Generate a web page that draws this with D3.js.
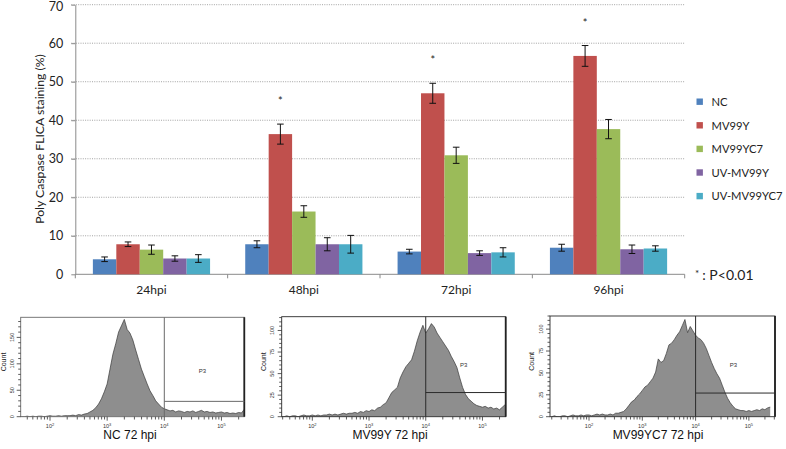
<!DOCTYPE html>
<html><head><meta charset="utf-8">
<script src="https://cdn.jsdelivr.net/npm/d3@7"></script>
<style>body{margin:0;background:#fff}svg{display:block}</style>
</head><body>
<svg id="c" width="786" height="449"></svg>
<script>
// ---------- bar chart data ----------
const categories = ["24hpi", "48hpi", "72hpi", "96hpi"];
const seriesNames = ["NC", "MV99Y", "MV99YC7", "UV-MV99Y", "UV-MV99YC7"];
const valNC        = [3.9, 7.8, 5.9, 6.9];
const valMV99Y     = [7.8, 36.4, 47.0, 56.7];
const valMV99YC7   = [6.4, 16.3, 30.9, 37.7];
const valUVMV99Y   = [4.1, 7.8, 5.5, 6.5];
const valUVMV99YC7 = [4.1, 7.8, 5.7, 6.7];
const errNC        = [0.6, 0.9, 0.6, 0.9];
const errMV99Y     = [0.6, 2.6, 2.6, 2.7];
const errMV99YC7   = [1.2, 1.5, 2.1, 2.5];
const errUVMV99Y   = [0.7, 1.7, 0.6, 1.1];
const errUVMV99YC7 = [1.0, 2.3, 1.2, 0.7];
const seriesColors = ["#4F81BD", "#C0504D", "#9BBB59", "#8064A2", "#4BACC6"];
const yTicks = [0, 10, 20, 30, 40, 50, 60, 70];
const significantCats = ["48hpi", "72hpi", "96hpi"];   // * over MV99Y
const sigNote = ": P<0.01";

// ---------- flow histogram data (counts per log10 bin, start 10^1.30, step 0.05) ----------
const histLogStart = 1.30, histLogStep = 0.05;
const countsNC72 = [0,0,0,0,
  0,0,1,0,1,0,1,1,0,1,2,1,1,2,1,2,2,
  2,3,2,4,3,5,6,9,12,17,
  24,34,47,62,90,118,138,160,172,184,
  165,158,145,126,108,90,76,62,49,40,
  30,24,18,15,13,11,12,9,11,10,
  8,10,9,11,8,10,12,9,10,8,
  9,7,8,9,7,8,6,7,6,8,
  7,14];
const countsMV99Y72 = [0,0,1,0,
  0,1,0,1,1,0,1,2,1,1,2,1,2,
  1,2,2,3,2,3,2,3,4,3,
  4,4,5,4,6,5,7,6,8,7,
  10,11,14,16,22,28,31,34,45,52,
  58,62,66,76,88,98,106,97,102,108,
  104,97,92,87,82,77,70,64,57,45,
  34,26,21,18,15,13,12,11,12,10,
  11,9,10,8,11,14];
const countsMV99YC772 = [0,1,0,0,1,1,0,1,2,1,1,2,1,2,
  2,1,2,3,2,3,2,2,3,2,
  4,4,5,6,9,13,17,19,23,26,
  30,34,36,40,44,51,66,62,64,72,
  82,84,88,93,97,104,111,96,103,98,
  93,90,88,84,78,70,62,55,49,44,
  36,28,21,16,12,9,8,7,7,6,
  7,6,7,8,7,9,8,10,11];
const histTitles = ["NC 72 hpi", "MV99Y 72 hpi", "MV99YC7 72 hpi"];
const histYTicks = [[0, 50, 100, 150], [0, 25, 50, 75, 100], [0, 25, 50, 75, 100]];
const histYMax = [188, 116, 115];
const histYMinorStep = [10, 5, 5];
const gateCounts = [29, 28, 27];
const gateLow = 1e4;
const histXTicks = [1e2, 1e3, 1e4, 1e5];
const gateName = "P3";

// ---------- drawing ----------
const svg = d3.select("#c");
const FONT = "Lato, 'Open Sans', sans-serif";

const values = [valNC, valMV99Y, valMV99YC7, valUVMV99Y, valUVMV99YC7];
const errors = [errNC, errMV99Y, errMV99YC7, errUVMV99Y, errUVMV99YC7];

const plot = {left: 75.3, right: 684.7, top: 4.7, bottom: 274.3};
const y = d3.scaleLinear().domain([0, 70]).range([plot.bottom, plot.top]);
const x0 = d3.scaleBand().domain(categories).range([plot.left, plot.right]);
const x1 = d3.scaleBand().domain(seriesNames).range([0, x0.bandwidth()]).paddingOuter(0.75);

// gridlines
svg.append("g").selectAll("line").data(yTicks.filter(t => t > 0)).join("line")
  .attr("x1", plot.left - 4).attr("x2", plot.right)
  .attr("y1", d => y(d)).attr("y2", d => y(d))
  .attr("stroke", "#8c8c8c").attr("stroke-width", 0.8).attr("stroke-dasharray", "1,1.3");

// y axis
const gy = svg.append("g").attr("transform", `translate(${plot.left},0)`)
  .call(d3.axisLeft(y).tickValues(yTicks).tickSize(4).tickPadding(8).tickSizeOuter(0));
gy.select(".domain").attr("stroke", "#8a8a8a");
gy.selectAll(".tick line").attr("stroke", "#8a8a8a");
gy.selectAll("text").attr("font-family", FONT).attr("font-size", 12.5).attr("fill", "#222")
  .attr("dy", d => d === 70 ? "0.45em" : "0.32em");

svg.append("text").attr("transform", "translate(44,139) rotate(-90)")
  .attr("text-anchor", "middle").attr("font-family", FONT).attr("font-size", 12.2).attr("fill", "#222")
  .text("Poly Caspase FLICA staining (%)");

// x axis
svg.append("line").attr("x1", plot.left).attr("x2", plot.right)
  .attr("y1", plot.bottom).attr("y2", plot.bottom).attr("stroke", "#8a8a8a");
const bounds = categories.map(c => x0(c)).concat([plot.right]);
svg.append("g").selectAll("line").data(bounds).join("line")
  .attr("x1", d => d).attr("x2", d => d).attr("y1", plot.bottom).attr("y2", plot.bottom + 4)
  .attr("stroke", "#8a8a8a");
svg.append("g").selectAll("text").data(categories).join("text")
  .attr("x", d => x0(d) + x0.bandwidth() / 2).attr("y", 294)
  .attr("text-anchor", "middle").attr("font-family", FONT).attr("font-size", 12).attr("fill", "#222")
  .text(d => d);

// bars + error bars
seriesNames.forEach((s, si) => {
  const g = svg.append("g");
  const data = categories.map((c, ci) => ({c, v: values[si][ci], e: errors[si][ci]}));
  g.selectAll("rect").data(data).join("rect")
    .attr("x", d => x0(d.c) + x1(s)).attr("width", x1.bandwidth())
    .attr("y", d => y(d.v)).attr("height", d => y(0) - y(d.v))
    .attr("fill", seriesColors[si]);
  const eg = g.selectAll("g.err").data(data).join("g").attr("class", "err");
  const cx = d => x0(d.c) + x1(s) + x1.bandwidth() / 2;
  eg.append("line").attr("x1", cx).attr("x2", cx)
    .attr("y1", d => y(d.v + d.e)).attr("y2", d => y(d.v - d.e)).attr("stroke", "#111").attr("stroke-width", 1);
  [1, -1].forEach(sg => {
    eg.append("line").attr("x1", d => cx(d) - 3.3).attr("x2", d => cx(d) + 3.3)
      .attr("y1", d => y(d.v + sg * d.e)).attr("y2", d => y(d.v + sg * d.e))
      .attr("stroke", "#111").attr("stroke-width", 1);
  });
});

// significance stars
svg.append("g").selectAll("text").data(significantCats).join("text")
  .attr("x", c => x0(c) + x1("MV99Y") + x1.bandwidth() / 2)
  .attr("y", c => { const i = categories.indexOf(c); return y(valMV99Y[i] + errMV99Y[i]) - 19; })
  .attr("text-anchor", "middle").attr("font-family", FONT).attr("font-size", 11).attr("fill", "#222")
  .text("*");

// legend
const lg = svg.append("g");
seriesNames.forEach((s, i) => {
  const cy = 101.7 + i * 23.6;
  lg.append("rect").attr("x", 696.5).attr("y", cy - 3.2).attr("width", 6.4).attr("height", 6.4).attr("fill", seriesColors[i]);
  lg.append("text").attr("x", 711.5).attr("y", cy + 4.2).attr("font-family", FONT).attr("font-size", 11.2)
    .attr("fill", "#222").text(s);
});
const note = svg.append("text").attr("x", 695).attr("y", 280).attr("font-family", FONT).attr("font-size", 14).attr("fill", "#222");
note.append("tspan").attr("font-size", 10).attr("dy", -3).text("*");
note.append("tspan").attr("dy", 3).attr("dx", 3).text(sigNote);

// ---------- histograms ----------
const histCounts = [countsNC72, countsMV99Y72, countsMV99YC772];
const panels = [
  {x0: 20.7, x1: 244.3, top: 317.3, bottom: 416.7, logMin: 1.487, logMax: 5.40, line: "#6a6a6a", title: 130, countX: 5.5, labX: 13.5},
  {x0: 281.7, x1: 505.7, top: 316.7, bottom: 416.7, logMin: 1.46, logMax: 5.41, line: "#2a2a2a", title: 390, countX: 265.5, labX: 273.5},
  {x0: 550, x1: 775, top: 316, bottom: 416.7, logMin: 1.268, logMax: 5.49, line: "#2a2a2a", title: 658, countX: 533.5, labX: 542.5}
];
const SMALL = "'Liberation Sans', Arial, sans-serif";

panels.forEach((p, pi) => {
  const g = svg.append("g");
  const xs = d3.scaleLog().domain([Math.pow(10, p.logMin), Math.pow(10, p.logMax)]).range([p.x0, p.x1]);
  const ys = d3.scaleLinear().domain([0, histYMax[pi]]).range([p.bottom, p.top]);
  const clipId = "clip" + pi;
  g.append("clipPath").attr("id", clipId).append("rect")
    .attr("x", p.x0).attr("y", p.top).attr("width", p.x1 - p.x0).attr("height", p.bottom - p.top);
  const pts = histCounts[pi].map((c, i) => ({v: Math.pow(10, histLogStart + i * histLogStep), c}));
  const area = d3.area().x(d => xs(d.v)).y0(p.bottom).y1(d => ys(d.c));
  const line = d3.line().x(d => xs(d.v)).y(d => ys(d.c));
  g.append("path").attr("clip-path", `url(#${clipId})`).attr("d", area(pts)).attr("fill", "#8e8e8e");
  g.append("path").attr("clip-path", `url(#${clipId})`).attr("d", line(pts)).attr("fill", "none")
    .attr("stroke", "#3a3a3a").attr("stroke-width", 0.7);

  // frame
  g.append("rect").attr("x", p.x0).attr("y", p.top).attr("width", p.x1 - p.x0).attr("height", p.bottom - p.top)
    .attr("fill", "none").attr("stroke", p.line).attr("stroke-width", 0.9);
  g.append("line").attr("x1", p.x1).attr("x2", p.x1).attr("y1", p.top).attr("y2", p.bottom)
    .attr("stroke", "#222").attr("stroke-width", 1.8);

  // gate P3
  g.append("line").attr("x1", xs(gateLow)).attr("x2", xs(gateLow)).attr("y1", p.top).attr("y2", p.bottom)
    .attr("stroke", p.line).attr("stroke-width", 1);
  g.append("line").attr("x1", xs(gateLow)).attr("x2", p.x1).attr("y1", ys(gateCounts[pi])).attr("y2", ys(gateCounts[pi]))
    .attr("stroke", p.line).attr("stroke-width", 1);
  g.append("text").attr("x", (xs(gateLow) + p.x1) / 2 - 2).attr("y", p.top + (ys(gateCounts[pi]) - p.top) * 0.64 + 2)
    .attr("text-anchor", "middle").attr("font-family", SMALL).attr("font-size", 6).attr("fill", "#333").text(gateName);

  // bottom log axis ticks
  const minor = [];
  for (let d = 1; d <= 5; d++) for (let m = 1; m <= 9; m++) {
    const v = m * Math.pow(10, d);
    if (v >= xs.domain()[0] && v <= xs.domain()[1]) minor.push({v, major: m === 1});
  }
  g.append("g").selectAll("line").data(minor).join("line")
    .attr("x1", d => xs(d.v)).attr("x2", d => xs(d.v))
    .attr("y1", p.bottom).attr("y2", d => p.bottom + (d.major ? 4 : 2.8))
    .attr("stroke", "#333").attr("stroke-width", 0.8);
  const xl = g.append("g").selectAll("text").data(histXTicks).join("text")
    .attr("x", d => xs(d)).attr("y", 428).attr("text-anchor", "middle")
    .attr("font-family", SMALL).attr("font-size", 5.5).attr("fill", "#333");
  xl.append("tspan").text("10");
  xl.append("tspan").attr("dy", -2).attr("font-size", 4).text(d => Math.round(Math.log10(d)));

  // left axis ticks
  const yMinor = d3.range(0, histYMax[pi] + 0.01, histYMinorStep[pi]);
  g.append("g").selectAll("line").data(yMinor).join("line")
    .attr("x1", p.x0).attr("x2", d => p.x0 - (histYTicks[pi].includes(d) ? 4 : 2.5))
    .attr("y1", d => ys(d)).attr("y2", d => ys(d)).attr("stroke", "#333").attr("stroke-width", 0.8);
  g.append("g").selectAll("text").data(histYTicks[pi]).join("text")
    .attr("transform", d => `translate(${p.labX},${ys(d)}) rotate(-90)`)
    .attr("text-anchor", "middle").attr("font-family", SMALL).attr("font-size", 5.5).attr("fill", "#333")
    .text(d => d);
  g.append("text").attr("transform", `translate(${p.countX},${(p.top + p.bottom) / 2 - 5}) rotate(-90)`)
    .attr("text-anchor", "middle").attr("font-family", SMALL).attr("font-size", 7).attr("fill", "#222").text("Count");

  // title
  g.append("text").attr("x", p.title).attr("y", 439).attr("text-anchor", "middle")
    .attr("font-family", SMALL).attr("font-size", 12).attr("fill", "#111").text(histTitles[pi]);
});
</script>
</body></html>
